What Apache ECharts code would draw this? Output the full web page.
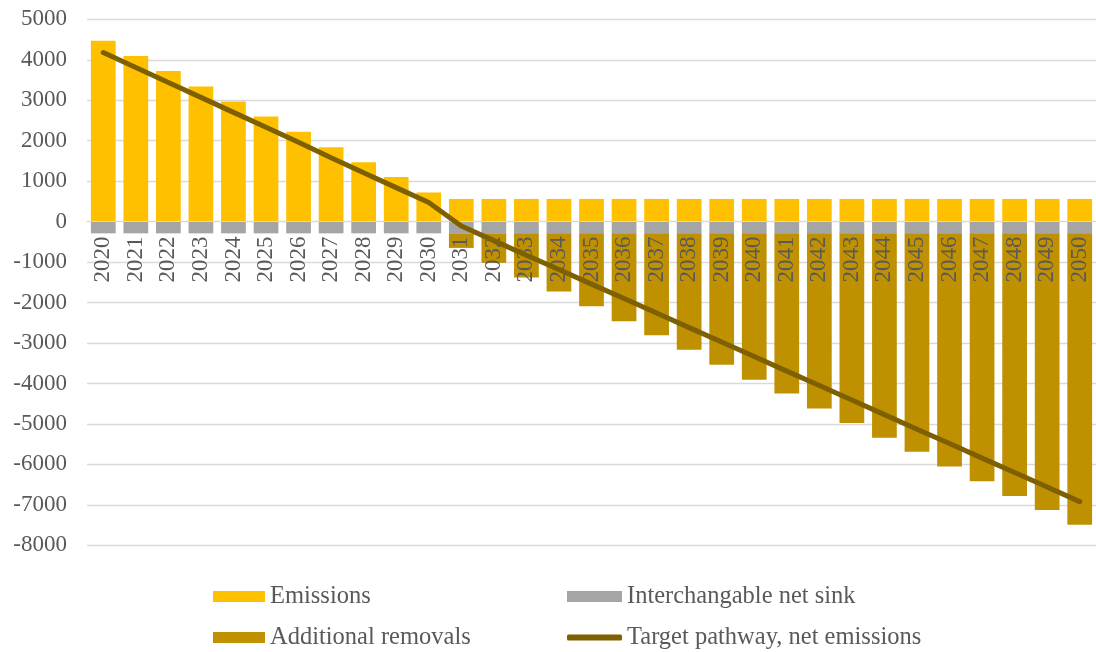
<!DOCTYPE html>
<html>
<head>
<meta charset="utf-8">
<script src="https://cdn.jsdelivr.net/npm/echarts@6/dist/echarts.min.js"></script>
<style>
  html, body { margin: 0; padding: 0; background: #fff; }
  #chart { width: 1096px; height: 652px; }
</style>
</head>
<body>
<div id="chart"></div>
<script>
// Years on the category axis
const years = ['2020','2021','2022','2023','2024','2025','2026','2027','2028','2029','2030',
  '2031','2032','2033','2034','2035','2036','2037','2038','2039','2040',
  '2041','2042','2043','2044','2045','2046','2047','2048','2049','2050'];

// Gross emissions (positive stack)
const emissions = [4470, 4090, 3720, 3340, 2970, 2600, 2220, 1840, 1470, 1100, 720,
  560, 560, 560, 560, 560, 560, 560, 560, 560, 560,
  560, 560, 560, 560, 560, 560, 560, 560, 560, 560];

// Interchangeable net sink (negative stack, first below zero)
const netSink = [-290, -290, -290, -290, -290, -290, -290, -290, -290, -290, -290,
  -290, -290, -290, -290, -290, -290, -290, -290, -290, -290,
  -290, -290, -290, -290, -290, -290, -290, -290, -290, -290];

// Additional removals needed from 2031 onwards
const additionalRemovals = [null, null, null, null, null, null, null, null, null, null, null,
  -360, -730, -1090, -1440, -1800, -2170, -2520, -2880, -3250, -3620,
  -3960, -4330, -4690, -5050, -5400, -5760, -6130, -6490, -6840, -7200];

// Net emissions target pathway
const targetPathway = [4180, 3810, 3440, 3070, 2700, 2330, 1960, 1580, 1210, 840, 470,
  -110, -470, -830, -1185, -1545, -1900, -2260, -2620, -2975, -3335,
  -3695, -4050, -4410, -4770, -5130, -5485, -5845, -6200, -6560, -6920];

// Value axis range
const yMin = -8000, yMax = 5000, yStep = 1000;

const FONT = '"Liberation Serif", "Times New Roman", serif';
const TEXT = '#595959';

const W = 1096, H = 652;
const grid = { left: 87, right: -2, top: 19.3, bottom: 106.7 };
// The category axis (line and year labels) sits on the zero line of the value axis
const plotH = H - grid.top - grid.bottom;
const zeroOffset = -plotH * (0 - yMin) / (yMax - yMin);

const chart = echarts.init(document.getElementById('chart'), null, { renderer: 'canvas' });

const legendText = { fontFamily: FONT, fontSize: 24.5, color: TEXT, lineHeight: 24 };
const legendBase = { padding: 0, textStyle: legendText, selectedMode: false };

chart.setOption({
  animation: false,
  backgroundColor: '#ffffff',
  grid: Object.assign({ containLabel: false }, grid),
  legend: [
    Object.assign({ data: ['Emissions'], left: 213, top: 584, itemWidth: 52, itemHeight: 11, icon: 'rect' }, legendBase),
    Object.assign({ data: ['Interchangable net sink'], left: 567, top: 584, itemWidth: 55, itemHeight: 11, icon: 'rect' }, legendBase),
    Object.assign({ data: ['Additional removals'], left: 213, top: 625, itemWidth: 52, itemHeight: 11, icon: 'rect' }, legendBase),
    Object.assign({ data: ['Target pathway, net emissions'], left: 567, top: 625, itemWidth: 55, itemHeight: 6, icon: 'roundRect' }, legendBase)
  ],
  xAxis: {
    type: 'category',
    data: years,
    position: 'bottom',
    offset: zeroOffset,
    z: 3,
    axisLine: { onZero: false, lineStyle: { color: '#D9D9D9', width: 1 } },
    axisTick: { show: false },
    axisLabel: {
      rotate: 90, margin: 15, interval: 0,
      fontFamily: FONT, fontSize: 23, color: TEXT
    },
    splitLine: { show: false }
  },
  yAxis: {
    type: 'value',
    min: yMin, max: yMax, interval: yStep,
    axisLine: { show: false },
    axisTick: { show: false },
    axisLabel: {
      margin: 20, fontFamily: FONT, fontSize: 23, color: TEXT,
      formatter: function (v) { return String(v); }
    },
    splitLine: { lineStyle: { color: '#D9D9D9', width: 1.3 } }
  },
  series: [
    {
      name: 'Emissions', type: 'bar', stack: 'total', data: emissions,
      barCategoryGap: '24%', z: 2,
      itemStyle: { color: '#FFC000' }
    },
    {
      name: 'Interchangable net sink', type: 'bar', stack: 'total', data: netSink,
      z: 2,
      itemStyle: { color: '#A5A5A5' }
    },
    {
      name: 'Additional removals', type: 'bar', stack: 'total', data: additionalRemovals,
      z: 2,
      itemStyle: { color: '#BF9000' }
    },
    {
      name: 'Target pathway, net emissions', type: 'line', data: targetPathway,
      z: 5, symbol: 'none', smooth: false,
      itemStyle: { color: '#7F6000' },
      lineStyle: { color: '#7F6000', width: 5, cap: 'round', join: 'round' }
    }
  ]
});
</script>
</body>
</html>
